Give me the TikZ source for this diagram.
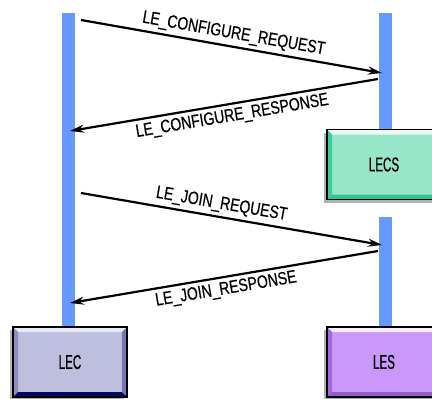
\documentclass[tikz,border=0pt]{standalone}
\usepackage{fontspec}
\setmainfont{Liberation Sans}
\newfontfamily\msgfam{Liberation Sans}[FakeStretch=0.78, FakeBold=0.5]
\newfontfamily\boxfam{Liberation Sans}[FakeStretch=0.58, FakeBold=0.6]
\usetikzlibrary{arrows.meta,shadows}

\definecolor{lifeblue}{RGB}{102,153,255}
\definecolor{lecface}{RGB}{190,190,222}
\definecolor{lectop}{RGB}{232,232,246}
\definecolor{lecleft}{RGB}{140,140,196}
\definecolor{lecright}{RGB}{118,118,178}
\definecolor{lecbottom}{RGB}{8,8,96}
\definecolor{lecsface}{RGB}{152,230,202}
\definecolor{lecstop}{RGB}{238,250,244}
\definecolor{lecsleft}{RGB}{64,202,150}
\definecolor{lecsbottom}{RGB}{52,196,146}
\definecolor{lesface}{RGB}{202,152,250}
\definecolor{lestop}{RGB}{246,238,255}
\definecolor{lesleft}{RGB}{164,104,222}
\definecolor{lesbottom}{RGB}{150,92,204}

\tikzset{%
  lifeline/.style={
    rectangle,
    fill=lifeblue,
    minimum width=13pt,
    inner sep=0pt,
    anchor=north
  },
  msg/.style={
    -{Stealth[length=14pt,width=8pt]},
    line width=2.2pt
  },
  msg label/.style={
    sloped,
    midway,
    inner sep=3.5pt,
    font=\msgfam\fontsize{18}{20}\selectfont
  },
  bevelbox/.style n args={5}{
    rectangle,
    fill=#1,
    draw=black,
    line width=1.6pt,
    inner sep=0pt,
    minimum height=70pt,
    drop shadow={shadow xshift=-3pt, shadow yshift=-3pt, fill=black!30, opacity=1},
    font=\boxfam\fontsize{20}{22}\selectfont,
    path picture={
      \coordinate (nw) at (path picture bounding box.north west);
      \coordinate (ne) at (path picture bounding box.north east);
      \coordinate (sw) at (path picture bounding box.south west);
      \coordinate (se) at (path picture bounding box.south east);
      \fill [#2] (nw) -- (ne) -- ([shift={(-5,5)}]ne) -- ([shift={(5,5)}]nw) -- cycle;
      \fill [#3] (nw) -- ([shift={(5,5)}]nw) -- ([shift={(5,-5)}]sw) -- (sw) -- cycle;
      \fill [#4] (ne) -- ([shift={(-5,5)}]ne) -- ([shift={(-5,-5)}]se) -- (se) -- cycle;
      \fill [#5] (sw) -- ([shift={(5,-5)}]sw) -- ([shift={(-5,-5)}]se) -- (se) -- cycle;
    }
  },
}

\begin{document}
\begin{tikzpicture}[x=1pt, y=-1pt]

    \useasboundingbox (0,0) rectangle (432,399);

    % lifelines
    \node [lifeline, minimum height=314pt] (lecline) at (68.5,13) {};
    \node [lifeline, minimum height=117pt] (lecsline) at (385.5,13) {};
    \node [lifeline, minimum height=110pt] (lesline) at (385.5,217) {};

    % entities
    \node [bevelbox={lecface}{lectop}{lecleft}{lecright}{lecbottom}, minimum width=114pt] (lec) at (70,362) {LEC};
    \node [bevelbox={lecsface}{lecstop}{lecsleft}{lecsbottom}{lecsbottom}, minimum width=114pt] (lecs) at (384,164.5) {LECS};
    \node [bevelbox={lesface}{lestop}{lesleft}{lesbottom}{lesbottom}, minimum width=114pt] (les) at (384,362) {LES};

    % message ends
    \coordinate (cfgreq-s) at (81,20);
    \coordinate (cfgreq-e) at (382,73);
    \coordinate (cfgresp-s) at (378,79);
    \coordinate (cfgresp-e) at (70,131);
    \coordinate (joinreq-s) at (81,193);
    \coordinate (joinreq-e) at (382,245);
    \coordinate (joinresp-s) at (378,251);
    \coordinate (joinresp-e) at (70,303);

    \draw [msg] (cfgreq-s) -- (cfgreq-e)
        node [msg label, above] {LE\_CONFIGURE\_REQUEST};

    \draw [msg] (cfgresp-s) -- (cfgresp-e)
        node [msg label, below, pos=0.48] {LE\_CONFIGURE\_RESPONSE};

    \draw [msg] (joinreq-s) -- (joinreq-e)
        node [msg label, above, pos=0.46] {LE\_JOIN\_REQUEST};

    \draw [msg] (joinresp-s) -- (joinresp-e)
        node [msg label, below] {LE\_JOIN\_RESPONSE};

\end{tikzpicture}
\end{document}
